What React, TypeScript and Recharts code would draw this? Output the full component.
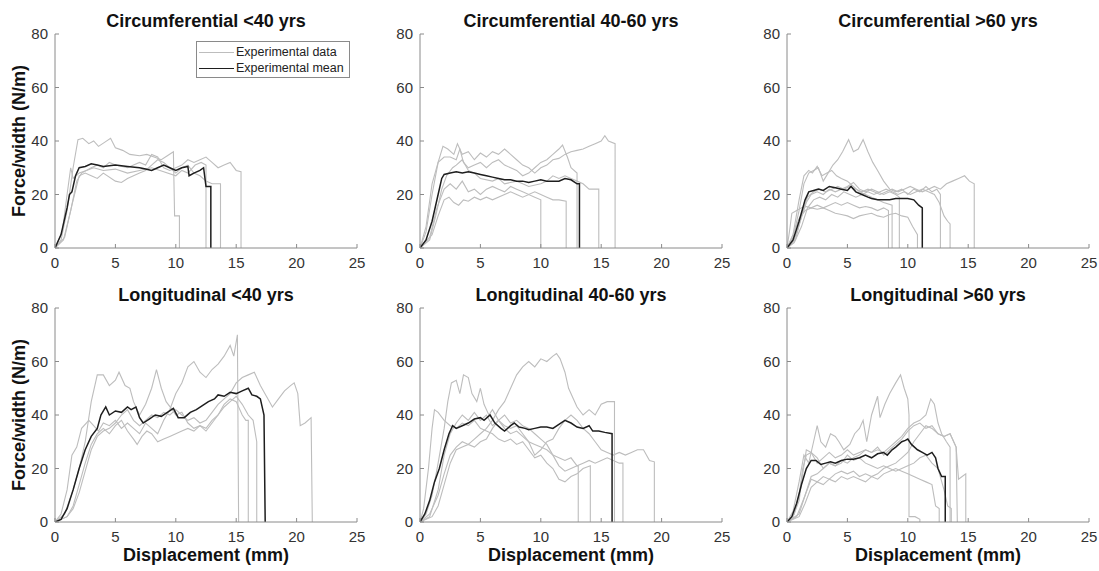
import { LineChart, Line, XAxis, YAxis } from "recharts"

type Pt = [number, number]

const xTicks = [0, 5, 10, 15, 20, 25]
const yTicks = [0, 20, 40, 60, 80]

// Circumferential <40 yrs
const circYoungA: Pt[] = [[0,0],[0.5,3],[1,14],[1.5,30],[1.9,40.5],[2.3,41],[2.8,39],[3.2,40],[3.6,38],[4.1,39.5],[4.6,41],[5,37.5],[5.6,36.5],[6.2,35],[7,34.5],[7.6,35],[8.2,34],[8.8,33],[9.3,34.5],[9.8,36],[9.9,12],[10.3,12],[10.3,0]]
const circYoungB: Pt[] = [[0,0],[0.6,6],[1,20],[1.3,30],[1.5,26],[2,28],[2.6,29],[3.2,30],[4,29],[5,29.5],[6,28],[7,29],[8,30],[9,28.5],[10,27],[10.5,29],[11,28],[11.6,31],[12.1,32],[12.5,31],[12.5,0]]
const circYoungC: Pt[] = [[0,0],[0.8,4],[1.4,16],[2,27],[2.5,28],[3,27],[3.5,26],[4,28],[5,25],[5.5,24.5],[6,26],[7,28],[7.5,29],[8,31],[8.5,33],[9,32],[9.5,30],[10,28],[10.5,30],[11,31],[11.5,28],[12,27],[12.5,25],[13,24],[13.7,24],[13.7,0]]
const circYoungD: Pt[] = [[0,0],[0.7,3],[1.3,14],[1.8,25],[2.2,28],[3,30],[3.5,31],[4,30],[4.5,32],[5,31],[6,30],[6.5,31],[7,32],[7.5,31],[8,35],[8.5,34],[9,30],[9.5,29],[10,30],[10.5,31],[11,33],[11.5,32],[12,33],[12.5,34],[13,32],[13.5,30],[14,31],[14.5,32],[15,29],[15.4,28.5],[15.4,0]]
const circYoungMean: Pt[] = [[0,0],[0.5,5],[1,15],[1.2,20],[1.4,21],[1.7,27],[2,30],[2.5,30.5],[3,31.5],[3.5,31],[4,30.5],[5,31],[6,30.5],[7,30],[7.5,29.5],[8,29],[8.5,30],[9,31],[9.5,30],[10,29],[10.5,30],[11,30.5],[11.1,27],[11.5,28],[12,29],[12.3,30],[12.5,23],[12.9,23],[12.9,0]]

// Circumferential 40-60 yrs
const circMidA: Pt[] = [[0,0],[0.5,6],[1,20],[1.5,32],[1.9,38],[2.3,37],[2.8,35],[3.1,39],[3.5,35],[4,36],[4.5,33],[5,35.5],[5.5,34],[6,36],[6.5,35],[7,37],[7.5,35],[8,33],[8.5,31],[9,30],[9.5,28],[10,30],[10.5,31],[11,33],[11.5,33.5],[12,35],[12.5,36],[13,36.5],[13.5,37],[14,38],[14.5,39],[15,40],[15.3,42],[15.6,40],[16.15,39],[16.15,0]]
const circMidB: Pt[] = [[0,0],[0.5,8],[1,24],[1.5,32],[2,34],[2.5,34],[3,33],[3.3,37],[3.6,32],[4,30],[4.5,31],[5,32],[5.5,30],[6,32],[6.5,33],[7,31],[7.5,30],[8,29],[8.5,27],[9,28],[9.5,30],[10,32],[10.5,33],[11,35],[11.5,37],[11.8,38.5],[12.2,34],[12.5,30],[13,28],[13,0]]
const circMidC: Pt[] = [[0,0],[0.8,3],[1.3,12],[1.8,22],[2.2,27],[2.7,30],[3,31],[3.5,33],[4,29],[4.5,28],[5,26],[6,25],[6.5,26],[7,24],[8,25],[8.5,24],[9,23],[10,24],[10.5,25],[11,27],[11.5,26],[12,27],[12.5,26],[13,25],[13.5,24],[14,22],[14.8,22],[14.8,0]]
const circMidD: Pt[] = [[0,0],[0.8,4],[1.4,15],[2,22],[2.5,24],[3,22],[3.5,25],[4,21],[4.5,22],[5,20],[5.5,22],[6,23],[6.5,22],[7,21],[7.5,23],[8,22],[8.5,21],[9,20],[9.5,21],[10,20],[10.5,19],[11,18],[11.5,18],[12.1,17.5],[12.1,0]]
const circMidE: Pt[] = [[0,0],[1,5],[1.5,12],[2,18],[2.4,19],[2.8,17],[3.2,16],[3.6,18],[4,17.5],[4.5,19],[5,18],[5.5,19],[6,18],[7,20],[7.5,21],[8,20],[8.5,19],[9,20],[9.5,19],[10,18],[10,0]]
const circMidMean: Pt[] = [[0,0],[0.5,3],[1,10],[1.5,20],[1.8,26],[2,27.5],[2.5,28],[3,28.5],[3.5,28],[4,28.5],[4.5,28],[5,27.5],[5.5,27],[6,26.5],[6.5,26],[7,25.5],[7.5,25.5],[8,25],[8.5,25],[9,24.5],[9.5,25],[10,25.5],[10.5,25],[11,25],[11.5,25],[12,26],[12.5,25.5],[13,24],[13.2,24],[13.2,0]]

// Circumferential >60 yrs
const circOldA: Pt[] = [[0,0],[0.5,4],[1,14],[1.4,24],[1.8,28],[2.2,29],[2.6,30],[3,25],[3.4,28],[3.8,31],[4.2,33],[4.6,36],[5.1,40.5],[5.5,36],[5.9,37],[6.3,40.5],[6.7,36],[7.1,32],[7.5,29],[8,25],[8.5,22],[9,21],[9.5,22],[10,20],[10.5,22],[11,21],[11.5,23],[12,21],[12.4,22],[12.7,20],[12.7,0]]
const circOldB: Pt[] = [[0,0],[0.7,3],[1.2,12],[1.7,19],[2.2,21],[2.7,22],[3.2,21],[3.7,22],[4.2,23],[4.7,22],[5.2,23],[5.7,22],[6.2,21],[6.7,22],[7.2,21],[7.7,20],[8.2,21],[8.7,22],[9.2,21],[9.7,22],[10.2,23],[10.7,22],[11.2,21],[11.7,22],[12.2,23],[12.7,22],[13.2,24],[13.7,25],[14.2,26],[14.7,27],[15.1,25],[15.5,24],[15.5,0]]
const circOldC: Pt[] = [[0,0],[0.5,5],[1,11],[1.5,14],[2,15],[2.5,14.5],[3,15],[3.5,14],[4,13],[4.5,12.5],[5,12],[5.5,11],[6,12],[6.5,12.5],[7,13],[7.5,12],[8,11.5],[8.5,12.5],[9,13],[9.5,12],[10,11.5],[10.4,8],[10.8,5],[10.8,0]]
const circOldD: Pt[] = [[0,0],[0.2,6],[0.4,13],[0.8,14],[1.2,15],[1.6,15.5],[2,15],[2.5,16],[3,15],[3.5,16],[4,17],[4.5,16],[5,17],[5.5,16],[6,15],[6.5,15.5],[7,15],[7.5,14],[8,15],[8.4,14],[8.4,0]]
const circOldE: Pt[] = [[0,0],[0.5,5],[1,18],[1.4,27],[1.8,29],[2.1,28],[2.5,30.5],[2.9,27],[3.3,28],[3.7,29],[4.1,27],[4.5,26],[5,25],[5.5,23],[6,21],[6.5,20],[7,19],[7.5,18],[8,17],[8.7,16],[8.7,0]]
const circOldF: Pt[] = [[0,0],[0.6,3],[1.1,10],[1.6,17],[2,20],[2.5,21],[3,20],[3.5,22],[4,21],[4.5,22],[5,23],[5.5,24.5],[6,22],[6.5,21],[7,22],[7.5,21],[8,20],[8.5,21],[9,20],[9.3,19],[9.3,0]]
const circOldG: Pt[] = [[0,0],[0.6,2],[1.2,8],[1.7,15],[2.2,18],[2.7,19],[3.2,18],[3.7,20],[4.2,19],[4.7,21],[5.2,20],[5.7,19],[6.2,20],[6.7,21],[7.2,20],[7.7,21],[8.2,22],[8.7,21],[9.2,20],[9.7,21],[10.2,20],[10.7,21],[11.2,22],[11.7,21],[12.2,20],[12.6,17],[13,12],[13.3,10],[13.5,9],[13.5,0]]
const circOldMean: Pt[] = [[0,0],[0.5,3],[1,10],[1.5,18],[1.8,21],[2.2,21.5],[2.6,22],[3,21.5],[3.5,23],[4,22.5],[4.5,22],[5,21.5],[5.3,23],[5.7,21],[6.2,20],[6.7,19],[7,18.5],[7.5,18],[8,18],[8.5,18],[9,18.5],[9.5,18.5],[10,18.5],[10.5,18],[10.9,16],[11.2,15],[11.2,0]]

// Longitudinal <40 yrs
const longYoungA: Pt[] = [[0,0],[0.5,3],[1,12],[1.4,25],[1.8,28],[2.2,35],[2.8,38],[3.2,36],[3.6,34],[4,37],[4.5,36],[5,38],[5.5,35],[6,37],[6.5,35],[7,33],[7.5,37],[8,35],[8.5,33],[9,38],[9.5,42],[10,48],[10.5,52],[11,58],[11.5,60],[12,56],[12.5,54],[13,57],[13.5,59],[14,62],[14.5,66],[14.8,62],[15.1,70],[15.2,0]]
const longYoungB: Pt[] = [[0,0],[0.8,3],[1.5,12],[2,20],[2.5,30],[3,45],[3.5,55],[4,55],[4.5,51],[5,53],[5.3,56],[5.8,51],[6.2,50],[6.5,45],[7,40],[7.5,44],[8,50],[8.4,57],[8.8,50],[9.2,45],[9.7,42],[10,40],[10.5,41],[11,37],[11.5,35],[12,36],[12.5,35],[13,38],[13.5,40],[14,44],[14.5,46],[15,45],[15.5,40],[15.8,38],[16,38],[16,0]]
const longYoungC: Pt[] = [[0,0],[1,2],[1.5,6],[2,14],[2.5,22],[3,29],[3.5,33],[4,35],[4.5,33],[5,36],[5.5,38],[6,34],[6.5,31],[6.8,29],[7.2,32],[7.6,34],[8,33],[8.5,30],[9,31],[9.5,32],[10,33],[10.5,34],[11,35],[11.5,34],[12,36],[12.5,34],[13,37],[13.5,40],[14,43],[14.5,45],[15,47],[15.5,44],[16,40],[16.4,38],[16.7,30],[16.7,0]]
const longYoungD: Pt[] = [[0,0],[1,2],[1.5,5],[2,11],[2.5,19],[3,27],[3.5,32],[4,34],[4.5,35],[5,37],[5.5,40],[6,42],[6.5,38],[7,36],[7.5,38],[8,40],[8.5,39],[9,41],[9.5,40],[10,42],[10.5,40],[11,38],[11.5,39],[12,37],[12.5,38],[13,41],[13.5,44],[14,46],[14.5,48],[15,52],[15.5,54],[16,55],[16.5,56],[17,51],[17.5,47],[18,43],[18.5,46],[19,49],[19.5,51],[19.8,52],[20.1,48],[20.3,36],[20.7,37],[21.2,39],[21.3,0]]
const longYoungMean: Pt[] = [[0,0],[0.5,1],[1,5],[1.5,12],[2,20],[2.5,27],[3,32],[3.5,35],[3.8,40],[4.2,43],[4.5,40],[5,41.5],[5.5,41],[6,43],[6.3,42],[6.7,43],[7,39],[7.3,37],[7.8,38.5],[8.3,40],[8.8,39.5],[9.3,41],[9.8,42.5],[10.2,39],[10.7,39],[11.2,41],[11.7,42],[12.2,43.5],[12.7,45],[13.2,46],[13.5,47.5],[14,47],[14.5,48.5],[15,48],[15.5,49],[16,50],[16.3,47.5],[16.7,47],[17,46],[17.3,40],[17.4,0]]

// Longitudinal 40-60 yrs
const longMidA: Pt[] = [[0,0],[0.8,3],[1.5,10],[2,18],[2.5,25],[3,28],[3.5,30],[4,29],[4.5,31],[5,33],[5.5,35],[6,38],[6.5,42],[7,45],[7.5,50],[8,55],[8.5,58],[9,60],[9.5,58],[10,61],[10.5,60],[11,62],[11.3,63],[11.6,61],[12,56],[12.3,50],[12.7,46],[13,43],[13.5,40],[14,42],[14.5,40],[15,44],[15.5,45],[16.1,45],[16.1,0]]
const longMidB: Pt[] = [[0,0],[0.3,5],[0.7,20],[1,35],[1.2,42],[1.5,41],[2,38],[2.5,36],[3,35],[3.5,37],[4,36],[4.5,38],[5,35],[5.5,34],[6,33],[6.5,31],[7,30],[7.5,31],[8,29],[8.5,30],[9,27],[9.5,24],[10,25],[10.5,22],[11,20],[11.5,16],[12,15],[12.5,17],[13,18],[13.5,20],[14.1,21],[14.1,0]]
const longMidC: Pt[] = [[0,0],[0.5,3],[1,10],[1.5,22],[2,35],[2.3,45],[2.6,52],[3,53],[3.3,48],[3.6,55],[4,54],[4.3,48],[4.7,45],[5,50],[5.3,44],[5.7,40],[6,42],[6.5,38],[7,36],[7.5,35],[8,36],[8.5,33],[9,30],[9.5,25],[10,27],[10.5,30],[11,31],[11.5,35],[12,38],[12.5,40],[13,38],[13.5,35],[14,33],[14.5,30],[15,27],[15.5,26],[16,25],[16.5,26],[17,25],[17.5,26],[18,27],[18.5,27],[19,23],[19.4,22.5],[19.4,0]]
const longMidD: Pt[] = [[0,0],[1,2],[1.5,6],[2,14],[2.5,22],[3,27],[3.5,28],[4,29],[4.5,28],[5,30],[5.5,31],[6,35],[6.5,38],[7,40],[7.5,37],[8,38],[8.5,36],[9,35],[9.5,33],[10,31],[10.5,29],[11,25],[11.5,21],[12,19],[12.5,20],[13,21],[13.1,21],[13.1,0]]
const longMidE: Pt[] = [[0,0],[0.8,2],[1.5,12],[2,25],[2.5,33],[3,37],[3.5,40],[4,38],[4.5,41],[5,38],[5.5,40],[6,36],[6.5,38],[7,35],[7.5,33],[8,34],[8.5,32],[9,30],[9.5,29],[10,28],[10.5,27],[11,25],[11.5,24],[12,23],[12.5,24],[13,21],[13.5,22],[14,23],[14.5,22],[15,23],[15.5,24],[16,23],[16.5,22],[16.8,22],[16.8,0]]
const longMidMean: Pt[] = [[0,0],[0.4,3],[0.8,8],[1.2,15],[1.6,20],[2,27],[2.4,33],[2.7,36],[3,35],[3.5,36],[4,37],[4.5,38.5],[5,39],[5.3,38],[5.8,40],[6.2,37],[6.7,35],[7,34],[7.5,36],[7.8,37],[8.2,35.5],[8.7,35],[9,34.5],[9.5,35],[10,35.5],[10.5,35.5],[11,35],[11.5,36.5],[12,38],[12.5,37],[13,35.5],[13.5,35],[14,36],[14.3,34],[14.8,34],[15.3,33.5],[15.9,33],[15.9,0]]

// Longitudinal >60 yrs
const longOldA: Pt[] = [[0,0],[0.5,4],[1,15],[1.4,25],[1.8,22],[2.2,30],[2.5,36],[2.8,30],[3.2,28],[3.6,33],[4,32],[4.3,30],[4.7,27],[5.2,29],[5.6,33],[6,35],[6.3,38],[6.6,30],[7,40],[7.5,47],[7.7,39],[8.1,44],[8.5,48],[9,52],[9.4,55],[9.7,50],[10,46],[10.1,40],[10.1,2],[10.6,2],[11,1],[11,0]]
const longOldB: Pt[] = [[0,0],[0.6,3],[1,10],[1.3,20],[1.6,25],[2,26],[2.5,22],[3,24],[3.5,26],[4,24],[4.5,25],[5,27],[5.5,25],[6,26],[6.5,27],[7,26],[7.5,27],[8,26],[8.5,28],[9,30],[9.5,32],[10,35],[10.5,37],[11,38],[11.5,40],[11.9,46],[12.2,44],[12.5,37],[12.8,33],[13.2,30],[13.5,28],[13.5,0]]
const longOldC: Pt[] = [[0,0],[1,3],[1.5,10],[2,16],[2.5,15],[3,17],[3.5,16],[4,18],[4.5,19],[5,18],[5.5,19],[6,17],[6.5,18],[7,17],[7.5,18],[8,20],[8.5,21],[9,22],[9.5,24],[10,26],[10.5,30],[11,33],[11.5,36],[12,35],[12.5,33],[13,32],[13.5,33],[14,28],[14.2,16],[14.5,17],[14.8,18],[14.8,0]]
const longOldD: Pt[] = [[0,0],[1,2],[1.5,7],[2,13],[2.5,15],[3,14],[3.5,16],[4,15],[4.5,17],[5,16],[5.5,17],[6,16],[6.5,15],[7,17],[7.5,16],[8,18],[8.5,19],[9,20],[9.5,19],[10,18],[10.5,17],[11,16],[11.5,15],[12,14],[12.3,6],[12.6,5],[12.6,0]]
const longOldE: Pt[] = [[0,0],[0.5,2],[1,8],[1.3,18],[1.6,27],[2,26],[2.5,24],[3,20],[3.5,22],[4,21],[4.5,23],[5,22],[5.5,24],[6,25],[6.5,27],[7,26],[7.5,28],[8,25],[8.5,27],[9,29],[9.5,31],[10,34],[10.5,36],[11,37],[11.5,35],[12,36],[12.5,33],[13,32],[13.5,33],[14,28],[14.1,0]]
const longOldF: Pt[] = [[0,0],[0.8,2],[1.5,10],[2,17],[2.5,18],[3,20],[3.5,22],[4,21],[4.5,22],[5,25],[5.5,23],[6,24],[6.5,22],[7,21],[7.5,20],[8,21],[8.5,20],[9,19],[9.5,20],[10,21],[10.5,22],[11,24],[11.5,25],[12,22],[12.5,20],[13,12],[13.3,6],[13.6,5],[13.6,0]]
const longOldMean: Pt[] = [[0,0],[0.4,2],[0.8,7],[1.2,14],[1.6,20],[2,23],[2.4,23],[2.8,21.5],[3.2,22],[3.6,22.5],[4,22],[4.5,23],[5,23.5],[5.5,23.5],[6,24],[6.5,25],[7,24],[7.5,25.5],[8,26],[8.3,25],[8.7,27],[9,28],[9.5,30],[9.8,30.5],[10,31],[10.3,29],[10.8,27],[11.2,26],[11.6,25],[12,26],[12.3,24],[12.5,20],[12.8,17],[13.1,17],[13.1,0]]

const PLOT_W = 302
const PLOT_H = 214
const AXIS_COLOR = "#8a8a8a"
const DATA_COLOR = "#bdbdbd"
const MEAN_COLOR = "#1e1e1e"

const rows = (pts: Pt[]) => pts.map(([x, y]) => ({ x, y }))

interface PanelProps {
  title: string
  curves: Pt[][]
  mean: Pt[]
  left: number
  top: number
  yLabel?: boolean
  xLabel?: boolean
  legend?: boolean
}

function Panel({ title, curves, mean, left, top, yLabel, xLabel, legend }: PanelProps) {
  const tickStyle = { fontSize: 15, fill: "#333" }
  return (
    <>
      <div
        style={{
          position: "absolute",
          left,
          top: top - 22,
          width: PLOT_W,
          textAlign: "center",
          fontSize: 18,
          fontWeight: "bold",
          lineHeight: "18px",
          color: "#111",
          whiteSpace: "nowrap",
        }}
      >
        {title}
      </div>
      <div style={{ position: "absolute", left: left - 40, top: top - 30 }}>
        <LineChart width={PLOT_W + 50} height={PLOT_H + 60} margin={{ top: 30, right: 10, bottom: 0, left: 0 }}>
          <XAxis
            type="number"
            dataKey="x"
            domain={[0, 25]}
            ticks={xTicks}
            allowDataOverflow
            height={30}
            stroke={AXIS_COLOR}
            tickSize={-4}
            tickMargin={13}
            tick={tickStyle}
          />
          <XAxis
            xAxisId="top"
            orientation="top"
            type="number"
            domain={[0, 25]}
            ticks={xTicks}
            height={0}
            stroke={AXIS_COLOR}
            tickSize={-4}
            tickFormatter={() => ""}
          />
          <YAxis
            type="number"
            domain={[0, 80]}
            ticks={yTicks}
            allowDataOverflow
            width={40}
            stroke={AXIS_COLOR}
            tickSize={-4}
            tickMargin={11}
            tick={tickStyle}
          />
          <YAxis
            yAxisId="right"
            orientation="right"
            type="number"
            domain={[0, 80]}
            ticks={yTicks}
            width={0}
            stroke={AXIS_COLOR}
            tickSize={-4}
            tickFormatter={() => ""}
          />
          {curves.map((c, i) => (
            <Line
              key={i}
              data={rows(c)}
              dataKey="y"
              type="linear"
              stroke={DATA_COLOR}
              strokeWidth={1.1}
              dot={false}
              activeDot={false}
              isAnimationActive={false}
            />
          ))}
          <Line
            data={rows(mean)}
            dataKey="y"
            type="linear"
            stroke={MEAN_COLOR}
            strokeWidth={1.5}
            dot={false}
            activeDot={false}
            isAnimationActive={false}
          />
        </LineChart>
      </div>
      {yLabel && (
        <div
          style={{
            position: "absolute",
            left: 19 - 100,
            top: top + PLOT_H / 2 - 9,
            width: 200,
            textAlign: "center",
            fontSize: 18,
            fontWeight: "bold",
            lineHeight: "18px",
            color: "#111",
            transform: "rotate(-90deg)",
            whiteSpace: "nowrap",
          }}
        >
          Force/width (N/m)
        </div>
      )}
      {xLabel && (
        <div
          style={{
            position: "absolute",
            left,
            top: top + PLOT_H + 24,
            width: PLOT_W,
            textAlign: "center",
            fontSize: 18,
            fontWeight: "bold",
            lineHeight: "18px",
            color: "#111",
            whiteSpace: "nowrap",
          }}
        >
          Displacement (mm)
        </div>
      )}
      {legend && (
        <div
          style={{
            position: "absolute",
            left: left + 141,
            top: top + 7,
            width: 154,
            height: 37,
            border: `1px solid ${AXIS_COLOR}`,
            background: "#fff",
            fontSize: 12.5,
            color: "#222",
            boxSizing: "border-box",
            whiteSpace: "nowrap",
          }}
        >
          <div style={{ position: "absolute", left: 2, top: 10, width: 35, borderTop: `1px solid ${DATA_COLOR}` }} />
          <div style={{ position: "absolute", left: 39, top: 2, lineHeight: "16px" }}>Experimental data</div>
          <div style={{ position: "absolute", left: 2, top: 26, width: 35, borderTop: `1.5px solid ${MEAN_COLOR}` }} />
          <div style={{ position: "absolute", left: 39, top: 18, lineHeight: "16px" }}>Experimental mean</div>
        </div>
      )}
    </>
  )
}

export default function App() {
  return (
    <div
      style={{
        position: "absolute",
        left: 0,
        top: 0,
        width: 1099,
        height: 571,
        background: "#fff",
        fontFamily: "'Liberation Sans', Arial, Helvetica, sans-serif",
        overflow: "hidden",
      }}
    >
      <Panel
        title="Circumferential <40 yrs"
        curves={[circYoungA, circYoungB, circYoungC, circYoungD]}
        mean={circYoungMean}
        left={55}
        top={34}
        yLabel
        legend
      />
      <Panel
        title="Circumferential 40-60 yrs"
        curves={[circMidA, circMidB, circMidC, circMidD, circMidE]}
        mean={circMidMean}
        left={420}
        top={34}
      />
      <Panel
        title="Circumferential >60 yrs"
        curves={[circOldA, circOldB, circOldC, circOldD, circOldE, circOldF, circOldG]}
        mean={circOldMean}
        left={787}
        top={34}
      />
      <Panel
        title="Longitudinal <40 yrs"
        curves={[longYoungA, longYoungB, longYoungC, longYoungD]}
        mean={longYoungMean}
        left={55}
        top={308}
        yLabel
        xLabel
      />
      <Panel
        title="Longitudinal 40-60 yrs"
        curves={[longMidA, longMidB, longMidC, longMidD, longMidE]}
        mean={longMidMean}
        left={420}
        top={308}
        xLabel
      />
      <Panel
        title="Longitudinal >60 yrs"
        curves={[longOldA, longOldB, longOldC, longOldD, longOldE, longOldF]}
        mean={longOldMean}
        left={787}
        top={308}
        xLabel
      />
    </div>
  )
}
